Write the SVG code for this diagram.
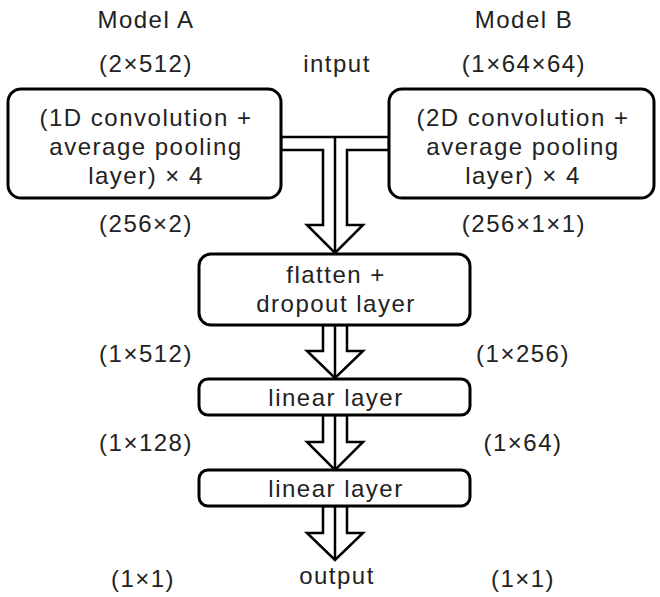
<svg xmlns="http://www.w3.org/2000/svg" width="660" height="597" viewBox="0 0 660 597">
<style>
text{font-family:"Liberation Sans",Arial,sans-serif;font-size:24px;letter-spacing:1.5px;fill:#222;text-anchor:middle}
.box{fill:#fff;stroke:#000;stroke-width:3}
.conn{fill:#fff;stroke:#000;stroke-width:2.5;stroke-linejoin:miter}
.ln{fill:none;stroke:#000;stroke-width:2.5}
</style>
<rect width="660" height="597" fill="#fff"/>
<g id="labels">
<text x="146" y="28">Model A</text>
<text x="524" y="28">Model B</text>
<text x="146" y="72">(2×512)</text>
<text x="337" y="72">intput</text>
<text x="524" y="72">(1×64×64)</text>
<text x="146" y="232">(256×2)</text>
<text x="524" y="232">(256×1×1)</text>
<text x="146" y="362">(1×512)</text>
<text x="523" y="362">(1×256)</text>
<text x="146" y="451">(1×128)</text>
<text x="523" y="451">(1×64)</text>
<text x="143" y="587">(1×1)</text>
<text x="523" y="587">(1×1)</text>
<text x="337" y="584">output</text>
</g>
<g id="connectors">
<path class="conn" d="M281 137 H389 V150 H347 V225 H363 L335 253 L307 225 H323 V150 H281 Z"/>
<line class="ln" x1="335" y1="137" x2="335" y2="253"/>
<path class="conn" d="M323 325 H347 V351 H363 L335 378 L307 351 H323 Z"/>
<line class="ln" x1="335" y1="325" x2="335" y2="378"/>
<path class="conn" d="M323 415 H347 V442 H363 L335 470 L307 442 H323 Z"/>
<line class="ln" x1="335" y1="415" x2="335" y2="470"/>
<path class="conn" d="M323 506 H347 V533 H363 L335 560 L307 533 H323 Z"/>
<line class="ln" x1="335" y1="506" x2="335" y2="560"/>
</g>
<g id="modelA">
<rect class="box" x="8" y="89" width="273" height="109" rx="13"/>
<text x="146" y="126">(1D convolution +</text>
<text x="146" y="155">average pooling</text>
<text x="146" y="184">layer) × 4</text>
</g>
<g id="modelB">
<rect class="box" x="389" y="89" width="265" height="109" rx="13"/>
<text x="523" y="126">(2D convolution +</text>
<text x="523" y="155">average pooling</text>
<text x="523" y="184">layer) × 4</text>
</g>
<g id="flatten">
<rect class="box" x="199" y="254" width="271" height="71" rx="12"/>
<text x="336" y="283">flatten +</text>
<text x="336" y="312">dropout layer</text>
</g>
<g id="linear1">
<rect class="box" x="199" y="379" width="271" height="36" rx="9"/>
<text x="336" y="406">linear layer</text>
</g>
<g id="linear2">
<rect class="box" x="199" y="470" width="271" height="36" rx="9"/>
<text x="336" y="497">linear layer</text>
</g>
</svg>
